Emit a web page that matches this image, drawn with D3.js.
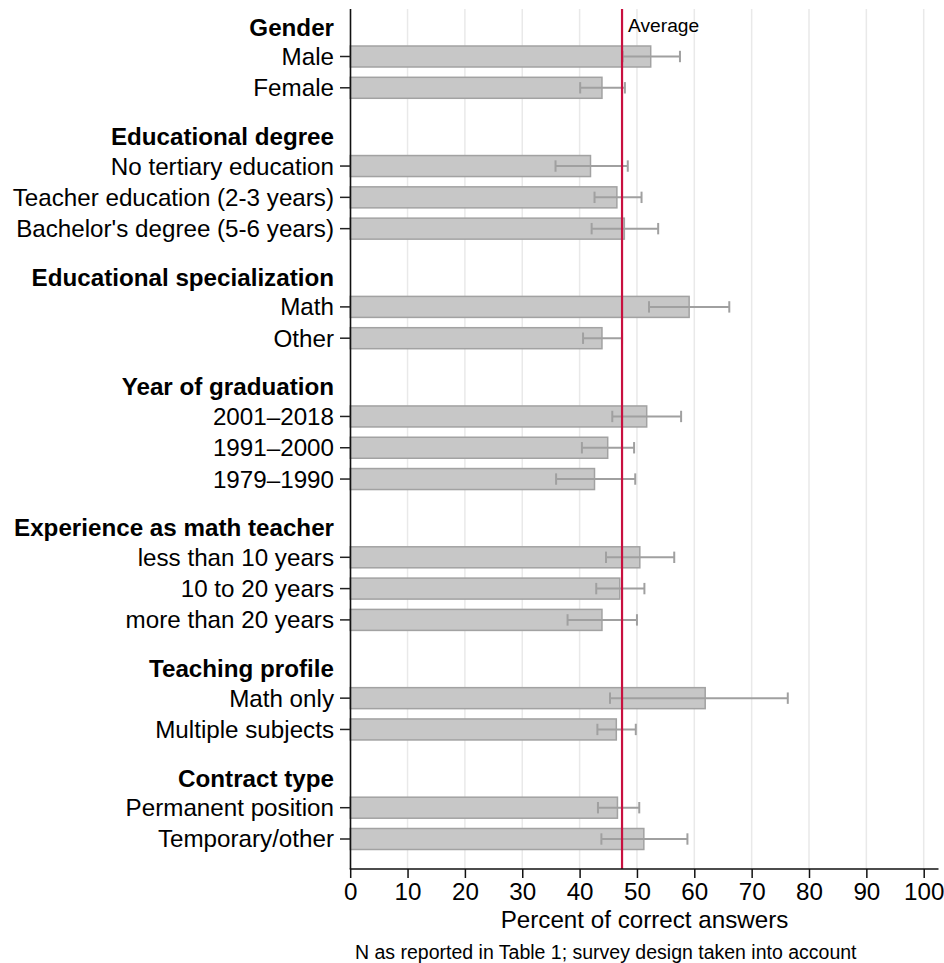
<!DOCTYPE html>
<html>
<head>
<meta charset="utf-8">
<script src="https://cdn.jsdelivr.net/npm/d3@7"></script>
<style>
  html, body { margin: 0; padding: 0; background: #fff; }
  svg { display: block; font-family: "Liberation Sans", Arial, Helvetica, sans-serif; }
</style>
</head>
<body>
<svg id="chart" width="944" height="963"></svg>
<script>
// ---- data ----
const groups = ["Gender", "Educational degree", "Educational specialization",
  "Year of graduation", "Experience as math teacher", "Teaching profile", "Contract type"];
const categories = ["Male", "Female",
  "No tertiary education", "Teacher education (2-3 years)", "Bachelor's degree (5-6 years)",
  "Math", "Other",
  "2001\u20132018", "1991\u20132000", "1979\u20131990",
  "less than 10 years", "10 to 20 years", "more than 20 years",
  "Math only", "Multiple subjects",
  "Permanent position", "Temporary/other"];
const categoryGroup = [0, 0, 1, 1, 1, 2, 2, 3, 3, 3, 4, 4, 4, 5, 5, 6, 6];
const means = [52.4, 43.9, 41.9, 46.5, 47.8, 59.1, 43.9, 51.7, 44.9, 42.6, 50.5, 47.0, 43.9, 61.9, 46.4, 46.6, 51.2];
const lower = [47.5, 40.1, 35.8, 42.6, 42.1, 52.1, 40.6, 45.7, 40.4, 35.9, 44.6, 42.9, 37.9, 45.3, 43.1, 43.2, 43.8];
const upper = [57.5, 47.9, 48.4, 50.8, 53.7, 66.1, 47.4, 57.7, 49.5, 49.7, 56.5, 51.3, 50.0, 76.3, 49.8, 50.4, 58.8];
const average = 47.4;
const xTicks = [0, 10, 20, 30, 40, 50, 60, 70, 80, 90, 100];
const xTitle = "Percent of correct answers";
const note = "N as reported in Table 1; survey design taken into account";
const avgLabel = "Average";

// ---- layout ----
const svg = d3.select("#chart");
const plotLeft = 350.5, plotRight = 938.5, plotTop = 9, plotBottom = 869;
const x = d3.scaleLinear().domain([0, 100]).range([350.2, 923.7]);

// position index for each category (1 unit within group, 2.5 between groups)
const pos = [];
let p = 0;
categories.forEach((c, i) => {
  if (i > 0) p += (categoryGroup[i] === categoryGroup[i - 1]) ? 1 : 2.5;
  pos.push(p);
});
const y = d3.scaleLinear().domain([0, pos[pos.length - 1]]).range([56.5, 839]);
const headerPos = groups.map((g, gi) => pos[categoryGroup.indexOf(gi)] - 0.94);

const fontBig = 24.2;
const ink = "#000";

// gridlines
svg.append("g").selectAll("line").data(xTicks.filter(d => d > 0)).join("line")
  .attr("x1", d => x(d)).attr("x2", d => x(d))
  .attr("y1", plotTop).attr("y2", plotBottom)
  .attr("stroke", "#e9e9e9").attr("stroke-width", 1.5);

// bars
const barH = 21;
svg.append("g").selectAll("rect").data(categories).join("rect")
  .attr("x", x(0))
  .attr("y", (d, i) => y(pos[i]) - barH / 2)
  .attr("width", (d, i) => x(means[i]) - x(0))
  .attr("height", barH)
  .attr("fill", "#c7c7c7")
  .attr("stroke", "#a2a2a2")
  .attr("stroke-width", 1.5);

// error bars
const eb = svg.append("g").attr("stroke", "#a0a0a0").attr("stroke-width", 2).attr("fill", "none");
categories.forEach((c, i) => {
  const cy = y(pos[i]);
  eb.append("line").attr("x1", x(lower[i])).attr("x2", x(upper[i])).attr("y1", cy).attr("y2", cy);
  eb.append("line").attr("x1", x(lower[i])).attr("x2", x(lower[i])).attr("y1", cy - 5.7).attr("y2", cy + 5.7);
  eb.append("line").attr("x1", x(upper[i])).attr("x2", x(upper[i])).attr("y1", cy - 5.7).attr("y2", cy + 5.7);
});

// average line
svg.append("line")
  .attr("x1", x(average)).attr("x2", x(average))
  .attr("y1", plotTop).attr("y2", plotBottom)
  .attr("stroke", "#c8103f").attr("stroke-width", 2.2);
svg.append("text")
  .attr("x", x(average) + 6).attr("y", 32)
  .attr("font-size", 19.2).attr("fill", ink)
  .text(avgLabel);

// y axis line
svg.append("line")
  .attr("x1", plotLeft).attr("x2", plotLeft)
  .attr("y1", plotTop).attr("y2", plotBottom)
  .attr("stroke", "#111").attr("stroke-width", 1.6);

// y ticks + labels
svg.append("g").selectAll("line").data(categories).join("line")
  .attr("x1", 340).attr("x2", plotLeft)
  .attr("y1", (d, i) => y(pos[i])).attr("y2", (d, i) => y(pos[i]))
  .attr("stroke", "#222").attr("stroke-width", 1.5);
svg.append("g").selectAll("text").data(categories).join("text")
  .attr("x", 334).attr("y", (d, i) => y(pos[i]))
  .attr("dy", "0.35em").attr("text-anchor", "end")
  .attr("font-size", fontBig).attr("fill", ink)
  .text(d => d);
svg.append("g").selectAll("text").data(groups).join("text")
  .attr("x", 334).attr("y", (d, i) => y(headerPos[i]))
  .attr("dy", "0.35em").attr("text-anchor", "end")
  .attr("font-size", fontBig).attr("font-weight", "bold").attr("fill", ink)
  .text(d => d);

// x axis
svg.append("line")
  .attr("x1", plotLeft - 0.8).attr("x2", plotRight)
  .attr("y1", plotBottom).attr("y2", plotBottom)
  .attr("stroke", "#111").attr("stroke-width", 1.6);
const xAxis = d3.axisBottom(x).tickValues(xTicks).tickSize(9).tickPadding(4).tickFormat(d3.format("d"));
const gx = svg.append("g").attr("transform", `translate(0,${plotBottom})`).call(xAxis);
gx.select(".domain").remove();
gx.selectAll(".tick line").attr("stroke", "#111").attr("stroke-width", 1.5);
gx.selectAll(".tick text").attr("font-size", fontBig).attr("fill", ink)
  .attr("font-family", "'Liberation Sans', Arial, Helvetica, sans-serif")
  .attr("dy", null).attr("y", 31);

svg.append("text")
  .attr("x", (plotLeft + plotRight) / 2).attr("y", 928)
  .attr("text-anchor", "middle").attr("font-size", fontBig).attr("fill", ink)
  .text(xTitle);
svg.append("text")
  .attr("x", 355).attr("y", 958.5)
  .attr("font-size", 19.5).attr("fill", ink)
  .text(note);
</script>
</body>
</html>
